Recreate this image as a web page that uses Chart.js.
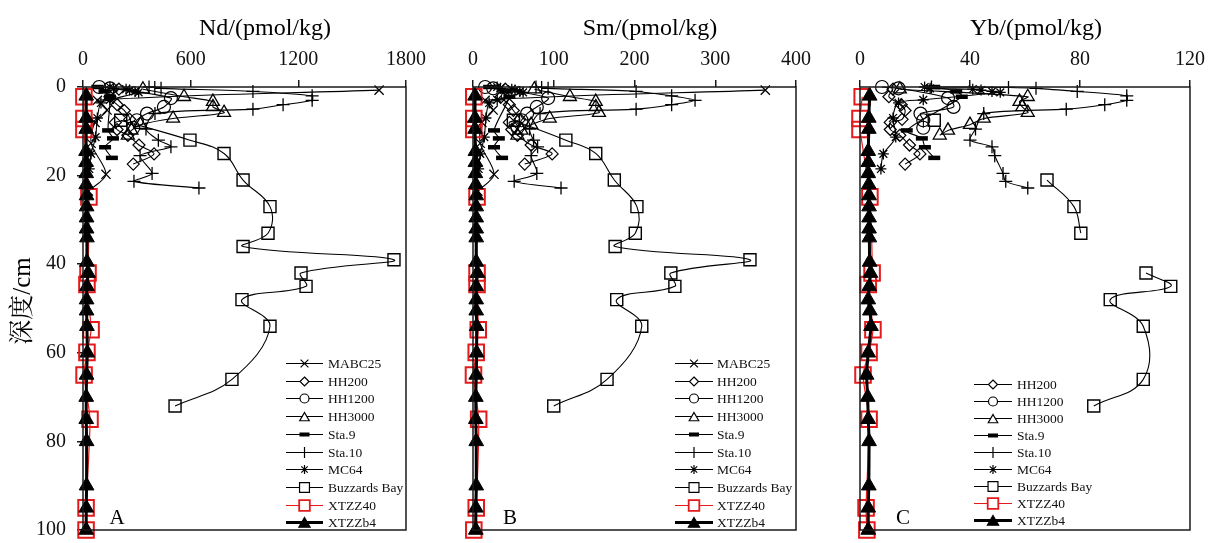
<!DOCTYPE html>
<html><head><meta charset="utf-8">
<script src="https://cdn.jsdelivr.net/npm/chart.js@4.4.1/dist/chart.umd.min.js"></script>
<style>
html,body{margin:0;padding:0;background:#fff;}
#wrap{position:relative;width:1208px;height:543px;overflow:hidden;background:#fff;}
canvas{position:absolute;left:0;top:0;}
</style></head><body>
<div id="wrap">
<canvas id="cA" width="1208" height="543"></canvas>
<canvas id="cB" width="1208" height="543"></canvas>
<canvas id="cC" width="1208" height="543"></canvas>
</div>
<script>
// ---------------- DATA ----------------
const seriesNames = ['MABC25','HH200','HH1200','HH3000','Sta.9','Sta.10','MC64','Buzzards Bay','XTZZ40','XTZZb4'];
const ndTicks = [0, 600, 1200, 1800];
const smTicks = [0, 100, 200, 300, 400];
const ybTicks = [0, 40, 80, 120];
const depthTicks = [0, 20, 40, 60, 80, 100];

const depthMABC25 = [0.7, 3, 5.2, 8, 12.7, 19.7, 23.5];
const ndMABC25 = [1650, 80, 134, 67, 45, 128, 30];
const smMABC25 = [362, 15, 25, 11, 9, 26, 6];
const ybMABC25 = null;

const depthHH200 = [0.5, 2.2, 4, 5.3, 7.3, 8, 9.6, 10.9, 13.1, 15.1, 17.4];
const ndHH200 = [200, 150, 190, 230, 260, 180, 190, 250, 312, 396, 280];
const smHH200 = [40, 35, 45, 50, 58, 45, 48, 55, 72, 98, 64];
const ybHH200 = [12, 10.5, 15, 16.4, 15.3, 11, 11, 14.5, 18, 21.8, 16.4];

const depthHH1200 = [0, 0.3, 2.5, 4.5, 6, 7.5, 9.2];
const ndHH1200 = [90, 150, 490, 451, 357, 300, 280];
const smHH1200 = [15, 25, 93, 79, 67, 60, 55];
const ybHH1200 = [8, 14, 32, 34, 22, 23, 23];

const depthHH3000 = [0.5, 2.2, 3.3, 4.5, 5.8, 7.1, 8.5, 9.8, 10.9];
const ndHH3000 = [334, 563, 724, 724, 786, 502, 320, 270, 250];
const smHH3000 = [76, 120, 152, 152, 156, 95, 72, 60, 55];
const ybHH3000 = [14.5, 61, 58, 59, 61, 45, 40, 32, 29];

const depthSta9 = [0, 1, 2.2, 9.8, 11.6, 13.6, 16];
const ndSta9 = [80, 120, 150, 140, 167, 123, 161];
const smSta9 = [20, 40, 45, 26, 32, 26, 36];
const ybSta9 = [27, 35, 37, 17, 22.5, 23.6, 27];

const depthSta10 = [0, 0.1, 0.3, 1, 2, 3, 4, 5, 6, 9.5, 12, 13.5, 15.5, 19.5, 21.3, 22.8];
const ndSta10 = [368, 400, 435, 947, 1277, 1277, 1115, 947, 401, 351, 420, 490, 318, 385, 284, 646];
const smSta10 = [78, 85, 93, 202, 246, 275, 246, 202, 83, 70, 75, 80, 72, 79, 51, 109];
const ybSta10 = [26, 54, 64, 79, 97, 97, 89, 75, 45, 42, 40, 48, 49, 52, 53, 61];

const depthMC64 = [0, 0.3, 0.5, 0.7, 1, 1.2, 2.9, 3.6, 7, 11.3, 15.1, 18.5];
const ndMC64 = [150, 170, 240, 260, 290, 310, 150, 100, 80, 70, 45, 35];
const smMC64 = [30, 34, 48, 52, 58, 62, 30, 20, 16, 14, 9, 7];
const ybMC64 = [23.5, 25.5, 41, 44, 48, 51, 23, 14, 12, 13, 8.5, 7.6];

const depthBuzzards = [7.5, 12, 15, 21, 27, 33, 36, 39, 42, 45, 48, 54, 66, 72];
const ndBuzzards = [210, 596, 786, 892, 1042, 1031, 892, 1733, 1215, 1243, 886, 1042, 830, 513];
const smBuzzards = [50, 115, 152, 175, 203, 201, 176, 343, 245, 250, 178, 209, 166, 100];
const ybBuzzards = [27, null, null, 68, 77.8, 80.3, null, null, 104, 113, 91, 103, 103, 85];

const depthXTZZ40 = [2.2, 7.1, 9.6, 24.8, 42, 44.6, 54.8, 59.9, 65, 75, 95, 100];
const ndXTZZ40 = [5, 5, 5, 33, 28, 22, 45, 22, 6, 39, 17, 17];
const smXTZZ40 = [1, 1, 1, 5, 5, 5, 6.5, 4, 0.6, 7, 4, 1];
const ybXTZZ40 = [0.8, 0, 0, 3.6, 4.4, 3, 4.7, 3.3, 1.1, 3.3, 2.2, 2.5];

const depthXTZZb4 = [2, 7, 9.5, 14.5, 17, 19.5, 22, 24.5, 27, 29.5, 32, 34, 39.5, 42, 45, 48, 50.5, 54, 60, 65, 70, 75, 80, 90, 95, 100];
const ndXTZZb4 = [18, 18, 18, 17, 17, 18, 18, 20, 20, 20, 20, 22, 22, 28, 22, 20, 20, 22, 24, 20, 18, 18, 20, 20, 18, 18];
const smXTZZb4 = [2.5, 2.5, 2.5, 3, 3, 3, 3.5, 4, 4, 4, 4, 4, 4, 5.5, 4, 4, 4, 4.5, 4.5, 4, 3.5, 3.5, 4, 4, 3.5, 3.5];
const ybXTZZb4 = [3.5, 3.2, 3.2, 3, 3, 3, 3.2, 3.3, 3.3, 3.3, 3.3, 3.4, 3.5, 3.8, 3.4, 3, 3.6, 4, 3, 2.4, 2.8, 3, 3.3, 3.2, 3, 3];

// ---------------- STYLES ----------------
const SERIF = '"Liberation Serif","Times New Roman",serif';
const RED = '#e41a1c';
const seriesDefs = [
  {name:'MABC25', depth:depthMABC25, Nd:ndMABC25, Sm:smMABC25, Yb:ybMABC25, style:'crossRot', r:6.5, lr:5.5, color:'#000', fill:false, lw:1.1, pbw:1.3, tension:0.3},
  {name:'HH200', depth:depthHH200, Nd:ndHH200, Sm:smHH200, Yb:ybHH200, style:'rectRot', r:6, lr:4.5, color:'#000', fill:false, lw:1.1, pbw:1.2, tension:0.3},
  {name:'HH1200', depth:depthHH1200, Nd:ndHH1200, Sm:smHH1200, Yb:ybHH1200, style:'circle', r:6.5, lr:4.5, color:'#000', fill:false, lw:1.1, pbw:1.2, tension:0.3},
  {name:'HH3000', depth:depthHH3000, Nd:ndHH3000, Sm:smHH3000, Yb:ybHH3000, style:'triangle', r:7.5, lr:5.5, color:'#000', fill:false, lw:1.1, pbw:1.3, tension:0.3},
  {name:'Sta.9', depth:depthSta9, Nd:ndSta9, Sm:smSta9, Yb:ybSta9, style:'line', r:6, lr:5, color:'#000', fill:false, lw:1.1, pbw:4.5, tension:0.3},
  {name:'Sta.10', depth:depthSta10, Nd:ndSta10, Sm:smSta10, Yb:ybSta10, style:'cross', r:6.5, lr:5.5, color:'#000', fill:false, lw:1.1, pbw:1.3, tension:0.25},
  {name:'MC64', depth:depthMC64, Nd:ndMC64, Sm:smMC64, Yb:ybMC64, style:'star', r:5.5, lr:4.5, color:'#000', fill:false, lw:1.1, pbw:1.3, tension:0.3},
  {name:'Buzzards Bay', depth:depthBuzzards, Nd:ndBuzzards, Sm:smBuzzards, Yb:ybBuzzards, style:'rect', r:8.5, lr:7, color:'#000', fill:false, lw:1.1, pbw:1.4, tension:0.4},
  {name:'XTZZ40', depth:depthXTZZ40, Nd:ndXTZZ40, Sm:smXTZZ40, Yb:ybXTZZ40, style:'rect', r:11, lr:7.5, color:RED, fill:false, lw:1.2, pbw:2, tension:0.2, order:1},
  {name:'XTZZb4', depth:depthXTZZb4, Nd:ndXTZZb4, Sm:smXTZZb4, Yb:ybXTZZb4, style:'triangle', r:8.5, lr:6.5, color:'#000', fill:true, lw:3, pbw:1, tension:0.2, order:0}
];

const panels = [
  {id:'cA', key:'Nd', title:'Nd/(pmol/kg)', ticks:ndTicks, left:83, right:406, padLeft:0, yw:83, titleX:265,
   letter:'A', letterX:117, legX1:286, legX2:323, legText:328, legY0:363, legDy:17.7, showY:true},
  {id:'cB', key:'Sm', title:'Sm/(pmol/kg)', ticks:smTicks, left:473, right:796, padLeft:463, yw:10, titleX:650,
   letter:'B', letterX:510, legX1:675, legX2:713, legText:717, legY0:363, legDy:17.7, showY:false},
  {id:'cC', key:'Yb', title:'Yb/(pmol/kg)', ticks:ybTicks, left:860, right:1190, padLeft:850, yw:10, titleX:1036,
   letter:'C', letterX:903, legX1:974, legX2:1012, legText:1017, legY0:384, legDy:17, showY:false}
];
const TOP = 87, BOTTOM = 536;

function drawMarker(ctx, style, x, y, r, fillColor, strokeColor, lw) {
  ctx.save();
  ctx.beginPath();
  ctx.lineWidth = lw; ctx.strokeStyle = strokeColor; ctx.fillStyle = fillColor || 'rgba(0,0,0,0)';
  const c45 = Math.SQRT1_2 * r;
  switch (style) {
    case 'circle': ctx.arc(x, y, r, 0, Math.PI * 2); break;
    case 'rect': ctx.rect(x - c45, y - c45, 2 * c45, 2 * c45); break;
    case 'rectRot': ctx.moveTo(x, y - r); ctx.lineTo(x + r, y); ctx.lineTo(x, y + r); ctx.lineTo(x - r, y); ctx.closePath(); break;
    case 'triangle':
      ctx.moveTo(x, y - r);
      ctx.lineTo(x + r * Math.sin(2 * Math.PI / 3), y - r * Math.cos(2 * Math.PI / 3));
      ctx.lineTo(x + r * Math.sin(4 * Math.PI / 3), y - r * Math.cos(4 * Math.PI / 3));
      ctx.closePath(); break;
    case 'cross': ctx.moveTo(x - r, y); ctx.lineTo(x + r, y); ctx.moveTo(x, y - r); ctx.lineTo(x, y + r); break;
    case 'crossRot': ctx.moveTo(x - c45, y - c45); ctx.lineTo(x + c45, y + c45); ctx.moveTo(x - c45, y + c45); ctx.lineTo(x + c45, y - c45); break;
    case 'star':
      ctx.moveTo(x - r, y); ctx.lineTo(x + r, y); ctx.moveTo(x, y - r); ctx.lineTo(x, y + r);
      ctx.moveTo(x - c45, y - c45); ctx.lineTo(x + c45, y + c45); ctx.moveTo(x - c45, y + c45); ctx.lineTo(x + c45, y - c45); break;
    case 'line': ctx.moveTo(x - r, y); ctx.lineTo(x + r, y); break;
  }
  if (fillColor) ctx.fill();
  ctx.stroke();
  ctx.restore();
}

const decoPlugin = {
  id: 'deco',
  afterDraw(chart, args, o) {
    const ctx = chart.ctx, a = chart.chartArea;
    ctx.save();
    ctx.strokeStyle = '#1a1a1a'; ctx.lineWidth = 1.5;
    ctx.strokeRect(a.left, a.top, a.right - a.left, a.bottom - a.top);
    ctx.fillStyle = '#000';
    ctx.font = '24px ' + SERIF;
    ctx.textAlign = 'center'; ctx.textBaseline = 'alphabetic';
    ctx.fillText(o.p.title, o.p.titleX, 35);
    ctx.font = '21px ' + SERIF;
    ctx.fillText(o.p.letter, o.p.letterX, 524);
    if (o.p.showY) {
      ctx.save();
      ctx.translate(23, 301);
      ctx.rotate(-Math.PI / 2);
      ctx.font = '25px "Liberation Serif","Noto Serif CJK SC","Noto Sans CJK SC",serif';
      ctx.textAlign = 'center'; ctx.textBaseline = 'middle';
      ctx.fillText('深度/cm', 0, 0);
      ctx.restore();
    }
    let row = 0;
    seriesDefs.forEach(s => {
      if (!s[o.p.key]) return;
      const y = Math.round(o.p.legY0 + row * o.p.legDy) + 0.5;
      ctx.beginPath();
      ctx.strokeStyle = s.color; ctx.lineWidth = s.name === 'XTZZb4' ? 3 : 1.2;
      ctx.moveTo(o.p.legX1, y); ctx.lineTo(o.p.legX2, y); ctx.stroke();
      const mx = (o.p.legX1 + o.p.legX2) / 2;
      const mlw = s.style === 'line' ? 4 : (s.name === 'XTZZ40' ? 1.8 : 1.2);
      const hollowWhite = (s.name === 'XTZZ40' || s.name === 'Buzzards Bay' || s.style === 'circle' || s.style === 'rectRot' || s.style === 'triangle');
      drawMarker(ctx, s.style, mx, s.style === 'triangle' ? y + 1.5 : y, s.lr, s.fill ? s.color : (hollowWhite ? '#fff' : null), s.color, mlw);
      ctx.fillStyle = '#111';
      ctx.font = '13.5px ' + SERIF;
      ctx.textAlign = 'left'; ctx.textBaseline = 'middle';
      ctx.fillText(s.name, o.p.legText, y + 0.5);
      row++;
    });
    ctx.restore();
  }
};

function makeDatasets(key) {
  const out = [];
  seriesDefs.forEach(s => {
    const vals = s[key];
    if (!vals) return;
    out.push({
      label: s.name,
      data: s.depth.map((d, i) => ({x: vals[i], y: d})),
      showLine: true,
      borderColor: s.color,
      borderWidth: s.lw,
      backgroundColor: s.fill ? s.color : 'rgba(0,0,0,0)',
      pointStyle: s.style,
      pointRadius: s.r,
      pointBorderWidth: s.pbw,
      pointBorderColor: s.color,
      pointBackgroundColor: s.fill ? s.color : 'rgba(0,0,0,0)',
      tension: s.tension,
      spanGaps: false,
      clip: false,
      order: s.order !== undefined ? s.order : 2
    });
  });
  return out;
}

panels.forEach(p => {
  new Chart(document.getElementById(p.id), {
    type: 'scatter',
    data: { datasets: makeDatasets(p.key) },
    plugins: [decoPlugin],
    options: {
      responsive: false,
      animation: false,
      events: [],
      layout: { padding: { left: p.padLeft, right: 1208 - p.right, top: 0, bottom: 543 - BOTTOM } },
      plugins: { legend: { display: false }, tooltip: { enabled: false }, deco: { p: p } },
      scales: {
        x: {
          type: 'linear', position: 'top', min: p.ticks[0], max: p.ticks[p.ticks.length - 1],
          afterBuildTicks: s => { s.ticks = p.ticks.map(v => ({value: v})); },
          ticks: { font: { family: SERIF, size: 20 }, color: '#111', padding: 8, maxRotation: 0, autoSkip: false,
                   callback: v => String(v) },
          grid: { display: true, drawOnChartArea: false, drawTicks: true, tickLength: 7, color: '#1a1a1a', lineWidth: 1.5 },
          border: { display: false },
          afterFit: s => { s.height = TOP; s.paddingLeft = 0; s.paddingRight = 0; }
        },
        y: {
          type: 'linear', position: 'left', reverse: true, min: 0, max: 100,
          afterBuildTicks: s => { s.ticks = depthTicks.map(v => ({value: v})); },
          ticks: { display: p.showY, font: { family: SERIF, size: 20 }, color: '#111', padding: 11, autoSkip: false,
                   callback: v => String(v) },
          grid: { display: p.showY, drawOnChartArea: false, drawTicks: true, tickLength: 6, color: '#1a1a1a', lineWidth: 1.5 },
          border: { display: false },
          afterFit: s => { s.width = p.yw; s.paddingTop = 0; s.paddingBottom = 0; }
        }
      }
    }
  });
});
</script>
</body></html>
